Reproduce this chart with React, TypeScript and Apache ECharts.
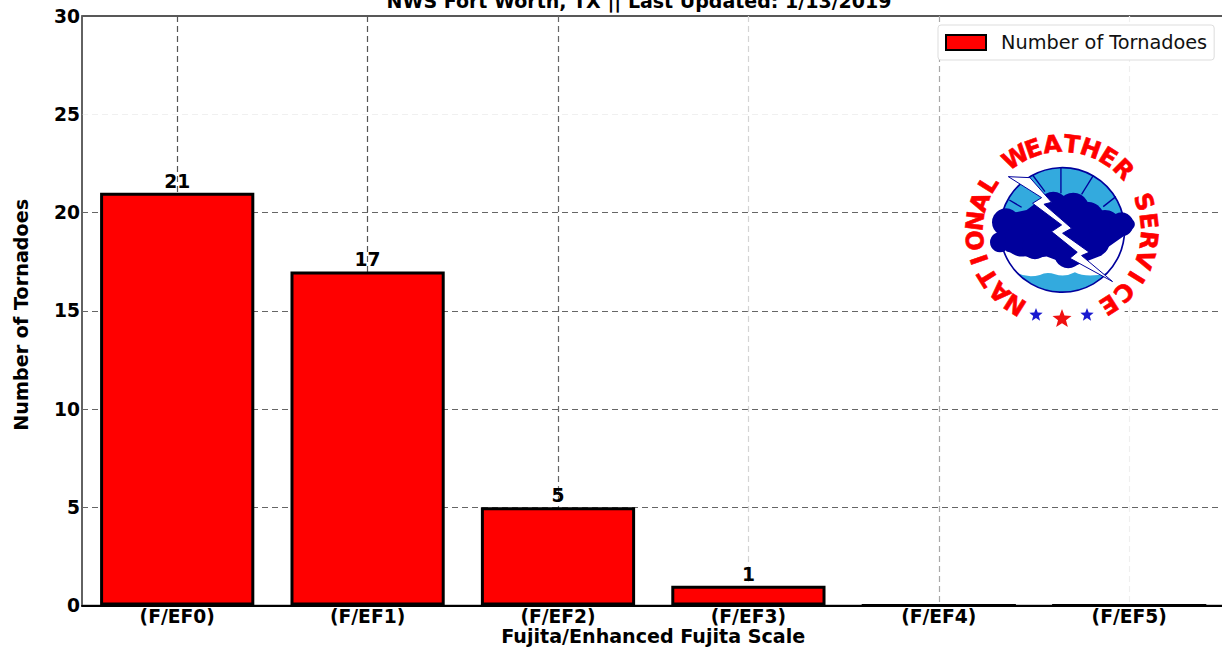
import React, { useEffect, useRef } from "react";
import * as echarts from "echarts";

const categories = ["(F/EF0)", "(F/EF1)", "(F/EF2)", "(F/EF3)", "(F/EF4)", "(F/EF5)"];
const tornadoCounts = [21, 17, 5, 1, 0, 0];
const seriesName = "Number of Tornadoes";
const titleText = "NWS Fort Worth, TX || Last Updated: 1/13/2019";
const xAxisName = "Fujita/Enhanced Fujita Scale";
const yAxisName = "Number of Tornadoes";
const verticalGridColors = ["#555555", "#555555", "#666666", "#d4d4d4", "#a8a8a8", "#efefef"];
const horizontalGridColors = ["rgba(0,0,0,0)", "#666666", "#666666", "#666666", "#666666", "#f0f0f0", "rgba(0,0,0,0)"];
const logoWords = "NATIONAL WEATHER SERVICE";

const FONT = "DejaVu Sans";
const NAVY = "#00009c";
const SKY = "#33aade";

echarts.graphic.registerShape(
  "nwsUpperSky",
  echarts.graphic.extendPath("M 30 195 A 187 187 0 0 1 404 195 Z", {})
);
echarts.graphic.registerShape(
  "nwsLowerSky",
  echarts.graphic.extendPath(
    "M 83 325 Q 115 340 150 330 Q 170 320 195 328 Q 225 338 255 322 Q 290 340 351 325 A 187 187 0 0 1 83 325 Z",
    {}
  )
);

function star(cx: number, cy: number, r: number, fill: string) {
  const points: number[][] = [];
  for (let i = 0; i < 10; i++) {
    const a = (i * Math.PI) / 5 - Math.PI / 2;
    const rr = i % 2 === 0 ? r : r * 0.42;
    points.push([cx + rr * Math.cos(a), cy + rr * Math.sin(a)]);
  }
  return { type: "polygon", z: 30, shape: { points }, style: { fill } };
}

function logoGraphic() {
  const cx = 1062;
  const cy = 231;
  const radius = 87;
  const first = -147.5;
  const step = 295 / (logoWords.length - 1);
  const letters = logoWords.split("").map((ch, i) => {
    const deg = first + i * step;
    const rad = (deg * Math.PI) / 180;
    return {
      type: "text",
      z: 30,
      x: cx + radius * Math.sin(rad),
      y: cy - radius * Math.cos(rad),
      rotation: -rad,
      style: {
        text: ch,
        fill: "#ff0000",
        stroke: "#ff0000",
        lineWidth: 0.6,
        font: "bold 24px 'DejaVu Sans'",
        textAlign: "center",
        textVerticalAlign: "middle",
      },
    };
  });
  const clouds = [
    [48, 172, 42], [30, 232, 30], [95, 225, 50], [135, 245, 38], [190, 125, 45],
    [250, 130, 47], [290, 165, 55], [345, 185, 50], [395, 178, 36], [418, 178, 17],
    [320, 235, 38], [235, 268, 42],
  ].map(([x, y, r]) => ({ type: "circle", z: 25, shape: { cx: x, cy: y, r }, style: { fill: NAVY } }));
  const cloudBody = {
    type: "polygon",
    z: 25,
    shape: {
      points: [
        [40, 150], [110, 135], [170, 90], [270, 95], [340, 145], [400, 165], [400, 215],
        [350, 250], [335, 272], [250, 305], [170, 275], [130, 280], [50, 260], [20, 220],
      ],
    },
    style: { fill: NAVY },
  };
  const spokes = [
    [213, 8, 213, 85], [310, 32, 275, 88], [378, 95, 340, 125],
    [128, 30, 165, 80], [58, 105, 95, 127],
  ].map(([x1, y1, x2, y2]) => ({
    type: "line",
    z: 24,
    shape: { x1, y1, x2, y2 },
    style: { stroke: NAVY, lineWidth: 4 },
  }));
  return [
    {
      type: "circle",
      shape: { cx, cy, r: 102 },
      style: { fill: "#ffffff" },
      z: 20,
    },
    {
      type: "group",
      x: 990,
      y: 165,
      scaleX: 1 / 3,
      scaleY: 1 / 3,
      children: [
        { type: "circle", z: 21, shape: { cx: 217, cy: 195, r: 187 }, style: { fill: "#ffffff" } },
        { type: "nwsUpperSky", z: 22, style: { fill: SKY } },
        { type: "nwsLowerSky", z: 22, style: { fill: SKY } },
        { type: "circle", z: 23, shape: { cx: 217, cy: 195, r: 187 }, style: { fill: "none", stroke: NAVY, lineWidth: 5 } },
        ...spokes,
        cloudBody,
        ...clouds,
        {
          type: "polygon",
          z: 26,
          shape: {
            points: [
              [55, 35], [120, 38], [185, 112], [162, 118], [245, 190], [218, 205], [298, 262],
              [275, 272], [368, 350], [240, 280], [262, 262], [185, 200], [215, 180], [128, 115], [155, 98],
            ],
          },
          style: { fill: "#ffffff", stroke: NAVY, lineWidth: 3 },
        },
      ],
    },
    { type: "group", children: [...letters, star(1036, 315, 7, "#1a1ad0"), star(1087, 315, 7, "#1a1ad0"), star(1062, 319, 10, "#f01010")] },
  ];
}

export default function App() {
  const ref = useRef<HTMLDivElement>(null);

  useEffect(() => {
    const chart = echarts.init(ref.current!, undefined, { renderer: "svg" });
    chart.setOption({
      animation: false,
      backgroundColor: "#ffffff",
      title: {
        text: titleText,
        left: 634,
        top: -14,
        textAlign: "center",
        textStyle: { fontFamily: FONT, fontWeight: "bold", fontSize: 19, color: "#000" },
      },
      legend: {
        left: 938,
        top: 25,
        padding: [8, 7, 8, 7],
        backgroundColor: "#ffffff",
        borderColor: "#dddddd",
        borderWidth: 1,
        borderRadius: 3,
        itemWidth: 40,
        itemHeight: 15,
        itemGap: 0,
        textStyle: { fontFamily: FONT, fontSize: 19.3, color: "#111", padding: [0, 0, 0, 10] },
        data: [{ name: seriesName, icon: "rect" }],
      },
      grid: {
        left: 82,
        top: 16,
        width: 1142.4,
        height: 589.5,
        outerBoundsMode: "none",
        show: true,
        borderColor: "#222222",
        borderWidth: 1.5,
      },
      xAxis: {
        type: "category",
        data: categories,
        name: xAxisName,
        nameLocation: "middle",
        nameGap: 21,
        nameMoveOverlap: false,
        nameTextStyle: { fontFamily: FONT, fontWeight: "bold", fontSize: 19.1, color: "#000" },
        axisLine: { lineStyle: { color: "#000", width: 2 } },
        axisTick: { show: false },
        axisLabel: { fontFamily: FONT, fontWeight: "bold", fontSize: 18.7, color: "#000", margin: 1, interval: 0 },
        splitLine: {
          show: true,
          alignWithLabel: true,
          interval: 0,
          lineStyle: { type: [6, 4], width: 1.2, color: verticalGridColors },
        },
      },
      yAxis: {
        type: "value",
        min: 0,
        max: 30,
        interval: 5,
        name: yAxisName,
        nameLocation: "middle",
        nameGap: 51,
        nameTextStyle: { fontFamily: FONT, fontWeight: "bold", fontSize: 19.2, color: "#000", padding: [0, 8, 0, 0] },
        axisLine: { show: true, lineStyle: { color: "#666", width: 1.5 } },
        axisTick: { show: false },
        axisLabel: { fontFamily: FONT, fontWeight: "bold", fontSize: 18.7, color: "#000", margin: 2, padding: [0, 0, 2, 0] },
        splitLine: { show: true, lineStyle: { type: [6, 4], width: 1.2, color: horizontalGridColors } },
      },
      series: [
        {
          type: "bar",
          name: seriesName,
          data: tornadoCounts,
          barWidth: "81%",
          itemStyle: { color: "#ff0000", borderColor: "#000", borderWidth: 3 },
          label: {
            show: true,
            position: "top",
            distance: 2,
            fontFamily: FONT,
            fontWeight: "bold",
            fontSize: 18.7,
            color: "#000",
            formatter: (p: any) => (p.value > 0 ? String(p.value) : ""),
          },
        },
      ],
      graphic: logoGraphic(),
    });
    return () => chart.dispose();
  }, []);

  return <div ref={ref} style={{ position: "absolute", left: 0, top: 0, width: 1222, height: 649 }} />;
}
